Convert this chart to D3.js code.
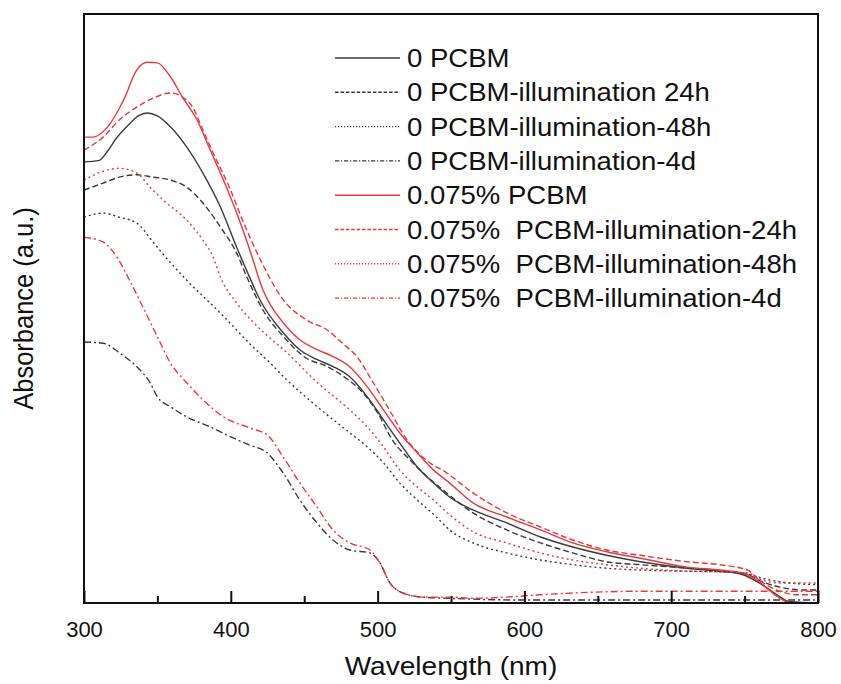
<!DOCTYPE html>
<html><head><meta charset="utf-8">
<script src="https://cdn.jsdelivr.net/npm/d3@7"></script>
<style>body{margin:0;background:#fff}svg{display:block}text{font-family:"Liberation Sans",Arial,sans-serif;fill:#111}</style>
</head><body>
<svg id="c" width="841" height="684"></svg>
<script>
// [wavelength nm, absorbance a.u.]
const s0PCBM = [[300,.749],[310,.751],[316,.767],[322,.789],[330,.811],[337,.827],[343,.832],[350,.827],[359,.808],[370,.774],[381,.730],[393,.672],[404,.604],[413,.552],[420,.514],[436,.458],[447,.430],[459,.413],[470,.401],[481,.384],[493,.350],[504,.311],[515,.272],[527,.231],[538,.204],[549,.180],[565,.158],[588,.136],[611,.112],[633,.095],[656,.081],[679,.070],[711,.059],[733,.054],[749,.048],[760,.034],[772,.014],[781,.002],[800,0]];
const s0PCBM24h = [[300,.701],[313,.713],[324,.723],[336,.727],[347,.723],[359,.718],[370,.706],[381,.679],[393,.638],[404,.594],[411,.553],[422,.497],[436,.452],[450,.418],[466,.401],[480,.379],[490,.357],[500,.323],[510,.277],[522,.243],[534,.214],[547,.187],[565,.153],[588,.124],[611,.102],[633,.085],[656,.070],[679,.065],[711,.059],[733,.054],[749,.051],[762,.036],[774,.027],[790,.022],[800,.022]];
const s0PCBM48h = [[300,.655],[313,.662],[324,.655],[336,.645],[347,.613],[356,.586],[370,.548],[393,.492],[415,.435],[427,.407],[436,.384],[459,.333],[481,.289],[493,.265],[504,.238],[515,.204],[527,.175],[540,.146],[549,.124],[565,.102],[588,.085],[611,.073],[633,.065],[656,.059],[679,.056],[711,.054],[733,.053],[752,.049],[762,.042],[774,.036],[800,.031]];
const s0PCBM4d = [[300,.443],[313,.441],[324.5,.424],[336,.401],[345,.374],[350,.350],[359,.333],[370,.316],[386,.299],[400,.282],[413,.268],[424.7,.255],[435.6,.221],[447,.175],[458.7,.136],[469.6,.107],[481,.090],[494.8,.085],[501.6,.068],[508.4,.034],[517.3,.017],[530.9,.010],[549,.008],[600,.005],[700,.005],[800,.005]];
const sP = [[300,.791],[306,.791],[316,.808],[327,.854],[336,.905],[343,.918],[350,.917],[359,.893],[367,.859],[377,.820],[386,.769],[395,.718],[404,.662],[413,.599],[422,.531],[427,.506],[436,.475],[447,.447],[459,.430],[470,.418],[481,.401],[493,.367],[504,.328],[515,.289],[527,.255],[538,.226],[549,.204],[565,.170],[588,.146],[611,.124],[633,.102],[656,.087],[679,.076],[711,.061],[733,.056],[749,.051],[760,.036],[769,.017],[779,.002],[785,0],[800,0]];
const sP24h = [[300,.769],[313,.791],[324,.820],[336,.842],[347,.857],[359,.866],[367,.859],[374,.842],[381,.803],[388,.764],[399,.706],[408,.650],[418,.594],[436,.514],[452,.480],[466,.463],[476,.441],[486,.418],[497,.374],[508,.328],[520,.277],[533,.243],[547,.221],[565,.187],[588,.153],[611,.129],[633,.107],[656,.090],[679,.081],[711,.070],[733,.065],[752,.056],[760,.039],[772,.022],[786,.014],[800,.014]];
const sP48h = [[300,.718],[313,.733],[324,.738],[336,.730],[345,.706],[354,.684],[370,.650],[381,.616],[388,.587],[393,.553],[404,.509],[414,.480],[428,.447],[436,.430],[459,.374],[481,.328],[493,.299],[504,.265],[515,.226],[527,.197],[538,.175],[549,.150],[565,.121],[588,.102],[611,.085],[633,.073],[656,.065],[679,.059],[711,.054],[733,.053],[752,.051],[762,.039],[774,.034],[800,.034]];
const sP4d = [[300,.621],[313,.613],[322.5,.587],[331,.548],[340,.503],[350,.452],[359,.407],[370,.374],[381,.345],[395,.316],[413,.297],[425,.285],[435.6,.248],[447,.204],[458.7,.163],[469.6,.124],[481,.102],[494.8,.090],[501.6,.068],[508.4,.034],[517.3,.017],[530.9,.010],[549,.010],[565,.008],[588,.010],[611,.014],[633,.017],[656,.019],[679,.020],[800,.020]];

const seriesNames = ["0 PCBM","0 PCBM-illumination 24h","0 PCBM-illumination-48h","0 PCBM-illumination-4d","0.075% PCBM","0.075%  PCBM-illumination-24h","0.075%  PCBM-illumination-48h","0.075%  PCBM-illumination-4d"];
const seriesData = [s0PCBM,s0PCBM24h,s0PCBM48h,s0PCBM4d,sP,sP24h,sP48h,sP4d];
const xTicks = [300,400,500,600,700,800];
const xMinorTicks = [350,450,550,650,750];

const BLACK="#3a3a3a", RED="#e8383d";
const colors=[BLACK,BLACK,BLACK,BLACK,RED,RED,RED,RED];
const dashes=[null,"6,3","2,3","7,3,2,3",null,"6,3","2,3","7,3,2,3"];

const L=84,R=818,T=14,B=603;
const svg=d3.select("#c");
const x=d3.scaleLinear().domain([300,800]).range([L,R]);
const y=d3.scaleLinear().domain([0,1]).range([B,T]);

svg.append("defs").append("clipPath").attr("id","clip").append("rect").attr("x",L).attr("y",T).attr("width",R-L).attr("height",B-T);

const line=d3.line().x(d=>x(d[0])).y(d=>y(d[1])).curve(d3.curveMonotoneX);
const g=svg.append("g").attr("clip-path","url(#clip)");
seriesData.forEach((d,i)=>{
  g.append("path").datum(d).attr("d",line).attr("fill","none")
   .attr("stroke",colors[i]).attr("stroke-width",1.4)
   .attr("stroke-dasharray",dashes[i]);
});

// frame
svg.append("rect").attr("x",L).attr("y",T).attr("width",R-L).attr("height",B-T)
  .attr("fill","none").attr("stroke","#111").attr("stroke-width",2);

// ticks (inward)
const xa=d3.axisBottom(x).tickValues(xTicks).tickSizeInner(-12).tickSizeOuter(0).tickPadding(18).tickFormat(d3.format("d"));
const ax=svg.append("g").attr("transform",`translate(0,${B})`).call(xa);
ax.select(".domain").remove();
ax.selectAll(".tick line").attr("stroke","#111").attr("stroke-width",2);
ax.selectAll(".tick text").attr("font-size",22).attr("fill","#111").attr("font-family","Liberation Sans, Arial, sans-serif");
const xm=d3.axisBottom(x).tickValues(xMinorTicks).tickSizeInner(-7).tickSizeOuter(0).tickFormat("");
const axm=svg.append("g").attr("transform",`translate(0,${B})`).call(xm);
axm.select(".domain").remove();
axm.selectAll(".tick line").attr("stroke","#111").attr("stroke-width",2);

// titles
svg.append("text").attr("transform",`translate(${(L+R)/2},675) scale(1.08,1)`).attr("text-anchor","middle").attr("font-size",26).text("Wavelength (nm)");
svg.append("text").attr("transform",`translate(33,${(T+B)/2}) scale(1.08,1) rotate(-90)`).attr("text-anchor","middle").attr("font-size",25.5).text("Absorbance (a.u.)");

// legend
const lg=svg.append("g");
seriesNames.forEach((n,i)=>{
  const cy=58+i*34.3;
  lg.append("line").attr("x1",335).attr("x2",400).attr("y1",cy).attr("y2",cy)
    .attr("stroke",colors[i]).attr("stroke-width",1.4).attr("stroke-dasharray",dashes[i]?dashes[i].split(",").map(v=>v*0.6).join(","):null);
  lg.append("text").attr("transform",`translate(407,${cy+9}) scale(1.08,1)`).attr("font-size",25.5)
    .attr("xml:space","preserve").style("white-space","pre").text(n);
});
</script>
</body></html>
